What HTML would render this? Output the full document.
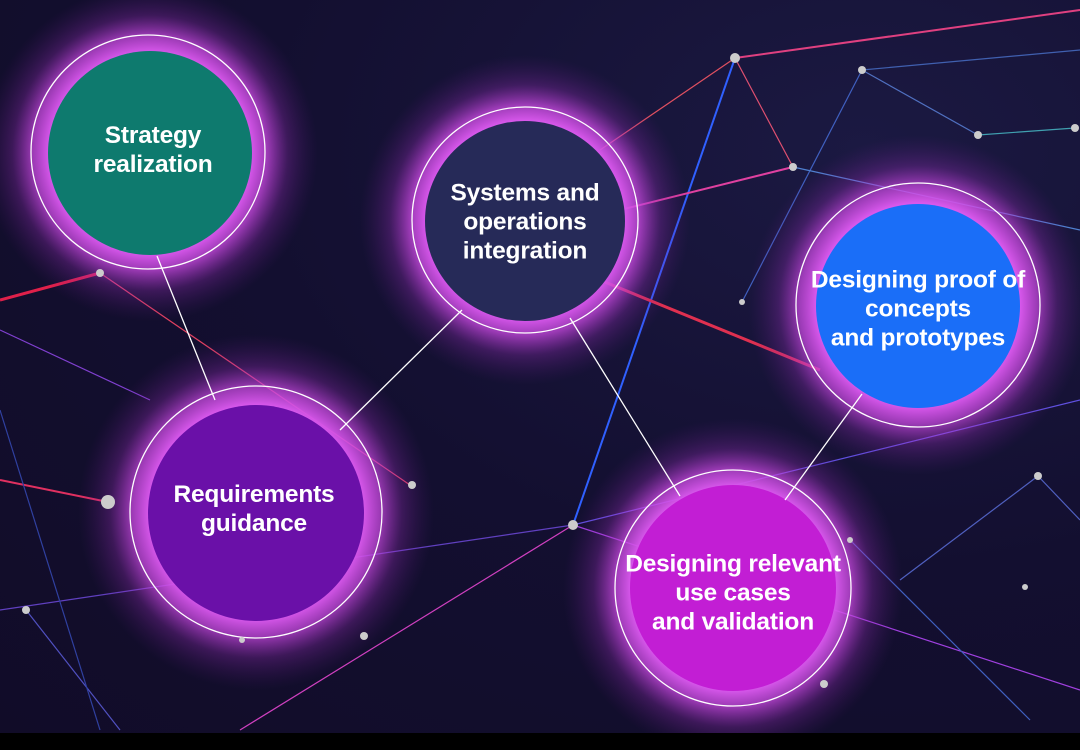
<!DOCTYPE html>
<html><head><meta charset="utf-8"><style>
html,body{margin:0;padding:0;width:1080px;height:750px;overflow:hidden;background:#000}
#c{position:relative;width:1080px;height:750px;background:radial-gradient(ellipse at 80% 20%,#1b1942 0%,#130f30 50%,#110c28 100%)}
.t{position:absolute;color:#fff;font-family:"Liberation Sans",sans-serif;font-weight:bold;font-size:24.5px;line-height:29px;text-align:center;transform:translate(-50%,-50%);white-space:nowrap;letter-spacing:-0.2px}
</style></head><body><div id="c">
<svg width="1080" height="750" style="position:absolute;left:0;top:0">
<defs>
<radialGradient id="g"><stop offset="0.6" stop-color="#d858ec" stop-opacity="1"/><stop offset="0.7" stop-color="#c848e0" stop-opacity="0.75"/><stop offset="0.82" stop-color="#a030c0" stop-opacity="0.3"/><stop offset="1" stop-color="#601880" stop-opacity="0"/></radialGradient>
</defs>
<g stroke-width="1.2" fill="none">
<line x1="0" y1="300" x2="100" y2="273" stroke="#e0204a" stroke-width="3"/>
<line x1="100" y1="273" x2="410" y2="485" stroke="#e04060"/>
<line x1="0" y1="330" x2="150" y2="400" stroke="#8040d0"/>
<line x1="735" y1="58" x2="1080" y2="10" stroke="#e04080" stroke-width="2"/>
<line x1="735" y1="58" x2="573" y2="525" stroke="#3060ff" stroke-width="2"/>
<line x1="735" y1="58" x2="793" y2="167" stroke="#e05070"/>
<line x1="735" y1="58" x2="600" y2="150" stroke="#e05060"/>
<line x1="862" y1="70" x2="978" y2="135" stroke="#5070c0"/>
<line x1="862" y1="70" x2="742" y2="302" stroke="#4060c0"/>
<line x1="862" y1="70" x2="1080" y2="50" stroke="#4060b0"/>
<line x1="978" y1="135" x2="1075" y2="128" stroke="#40a0b0"/>
<line x1="793" y1="167" x2="620" y2="210" stroke="#e040a0" stroke-width="2"/>
<line x1="793" y1="167" x2="1080" y2="230" stroke="#5080d0"/>
<line x1="600" y1="280" x2="820" y2="370" stroke="#e03050" stroke-width="3"/>
<line x1="573" y1="525" x2="1080" y2="400" stroke="#6050e0"/>
<line x1="573" y1="525" x2="240" y2="730" stroke="#d040c0"/>
<line x1="573" y1="525" x2="0" y2="610" stroke="#6040c0"/>
<line x1="573" y1="525" x2="1080" y2="690" stroke="#a040e0"/>
<line x1="1038" y1="476" x2="900" y2="580" stroke="#5060c0"/>
<line x1="1038" y1="476" x2="1080" y2="520" stroke="#5060c0"/>
<line x1="26" y1="610" x2="120" y2="730" stroke="#5050c0"/>
<line x1="108" y1="502" x2="0" y2="480" stroke="#e03060" stroke-width="2"/>
<line x1="850" y1="540" x2="1030" y2="720" stroke="#4060c0"/>
<line x1="0" y1="410" x2="100" y2="730" stroke="#3040a0"/>
</g>
<g fill="url(#g)">
<circle cx="150" cy="153" r="168"/>
<circle cx="525" cy="220" r="165"/>
<circle cx="918" cy="305" r="170"/>
<circle cx="256" cy="512" r="178"/>
<circle cx="733" cy="588" r="170"/>
</g>
<circle cx="150" cy="153" r="102" fill="#0e7a6e"/>
<circle cx="525" cy="221" r="100" fill="#262a58"/>
<circle cx="918" cy="306" r="102" fill="#1a6ef8"/>
<circle cx="256" cy="513" r="108" fill="#6a10a8"/>
<circle cx="733" cy="588" r="103" fill="#c21ed4"/>
<g fill="none" stroke="#fff" stroke-width="1.3">
<circle cx="148" cy="152" r="117"/>
<circle cx="525" cy="220" r="113"/>
<circle cx="918" cy="305" r="122"/>
<circle cx="256" cy="512" r="126"/>
<circle cx="733" cy="588" r="118"/>
<line x1="157" y1="256" x2="215" y2="400"/>
<line x1="462" y1="310" x2="340" y2="430"/>
<line x1="570" y1="318" x2="680" y2="496"/>
<line x1="862" y1="394" x2="785" y2="500"/>
</g>
<g fill="#ccc">
<circle cx="735" cy="58" r="5"/><circle cx="862" cy="70" r="4"/><circle cx="978" cy="135" r="4"/>
<circle cx="1075" cy="128" r="4"/><circle cx="793" cy="167" r="4"/><circle cx="742" cy="302" r="3"/>
<circle cx="100" cy="273" r="4"/><circle cx="108" cy="502" r="7"/><circle cx="412" cy="485" r="4"/>
<circle cx="573" cy="525" r="5"/><circle cx="1038" cy="476" r="4"/><circle cx="26" cy="610" r="4"/>
<circle cx="364" cy="636" r="4"/><circle cx="242" cy="640" r="3"/><circle cx="824" cy="684" r="4"/>
<circle cx="1025" cy="587" r="3"/><circle cx="850" cy="540" r="3"/>
</g>
<rect x="0" y="733" width="1080" height="17" fill="#000"/>
</svg>
<div class="t" style="left:153px;top:150px">Strategy<br>realization</div>
<div class="t" style="left:525px;top:222px">Systems and<br>operations<br>integration</div>
<div class="t" style="left:918px;top:309px">Designing proof of<br>concepts<br>and prototypes</div>
<div class="t" style="left:254px;top:509px">Requirements<br>guidance</div>
<div class="t" style="left:733px;top:593px">Designing relevant<br>use cases<br>and validation</div>
</div></body></html>
